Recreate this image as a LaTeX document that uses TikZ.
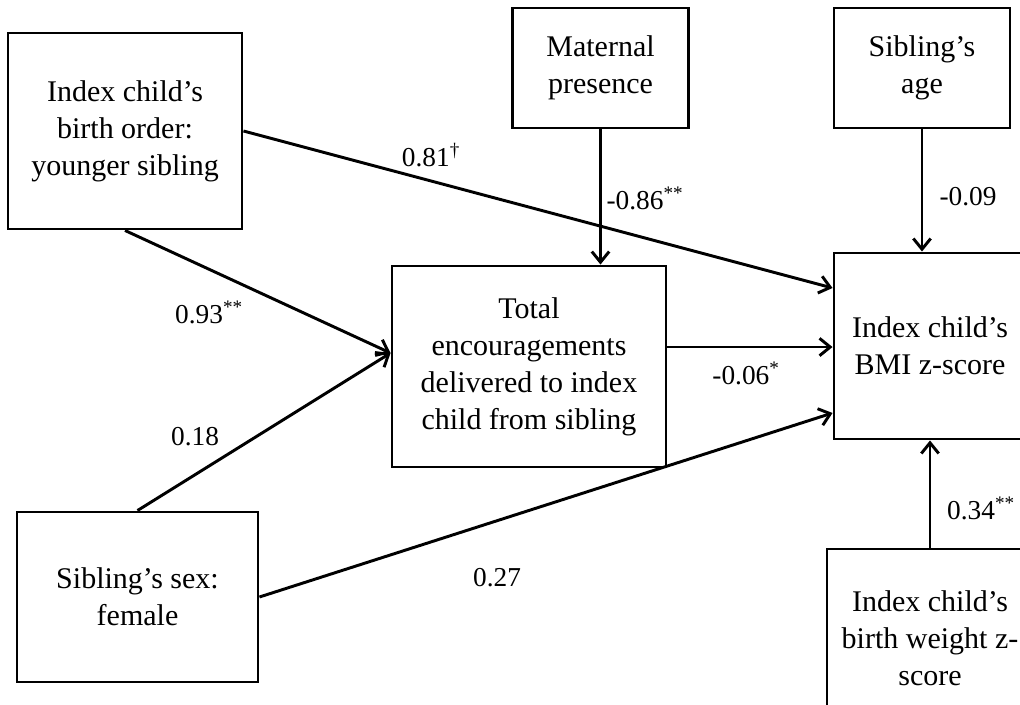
\documentclass[tikz,border=0pt]{standalone}
\usepackage{fontspec}
\setmainfont{Liberation Serif}
\usetikzlibrary{arrows.meta}

\begin{document}
\begin{tikzpicture}[x=0.75pt,y=-0.75pt,
 box/.style={draw,line width=2.2pt,align=center,inner sep=0pt,font=\fontsize{22.5}{27.75}\selectfont},
 coef/.style={inner sep=0pt,font=\fontsize{20.5}{24}\selectfont},
 path/.style={line width=2.2pt,-{Straight Barb[length=8pt,width=13pt,line width=2.2pt]}}]
 \path[use as bounding box] (0,0) rectangle (1020,705);

\node[box,minimum width=175.5pt,minimum height=147pt] (order) at (125,131) {Index child's\\birth order:\\younger sibling};
\node[box,minimum width=132pt,minimum height=90pt] (mat) at (600.5,68) {Maternal\\presence};
\node[box,minimum width=132pt,minimum height=90pt] (age) at (922,68) {Sibling's\\age};
\node[box,minimum width=205.5pt,minimum height=150.75pt] (enc) at (529,366.5) {Total\\encouragements\\delivered to index\\child from sibling};
\node[box,minimum width=144pt,minimum height=139.5pt] (bmi) at (930,346) {Index child's\\BMI z-score};
\node[box,minimum width=180.75pt,minimum height=127.5pt] (sex) at (137.5,597) {Sibling's sex:\\female};
\node[box,minimum width=154.5pt,minimum height=133.5pt] (bw) at (930,638) {Index child's\\birth weight z-\\score};

\draw[path] (order.east) -- ([yshift=43.5pt]bmi.west);
\draw[path] (order.south) -- ([yshift=10.1pt]enc.west);
\draw[path] (sex.north) -- ([yshift=10.1pt]enc.west);
\draw[path] (sex.east) -- ([yshift=-50.25pt]bmi.west);
\draw[path] ([yshift=14.6pt]enc.east) -- ([yshift=14.6pt]enc.east -| bmi.west);
\draw[path] (mat.south) -- (mat.south |- enc.north);
\draw[path] (age.south) -- (age.south |- bmi.north);
\draw[path] (bw.north) -- (bw.north |- bmi.south);

\node[coef] (c1) at (431,155) {0.81\textsuperscript{\textdagger}};
\node[coef] (c2) at (645,198) {-0.86\textsuperscript{**}};
\node[coef] (c3) at (968,197) {-0.09};
\node[coef] (c4) at (209,312) {0.93\textsuperscript{**}};
\node[coef] (c5) at (195,437) {0.18};
\node[coef] (c6) at (746,373) {-0.06\textsuperscript{*}};
\node[coef] (c7) at (497,578) {0.27};
\node[coef] (c8) at (981,508) {0.34\textsuperscript{**}};

\end{tikzpicture}
\end{document}
